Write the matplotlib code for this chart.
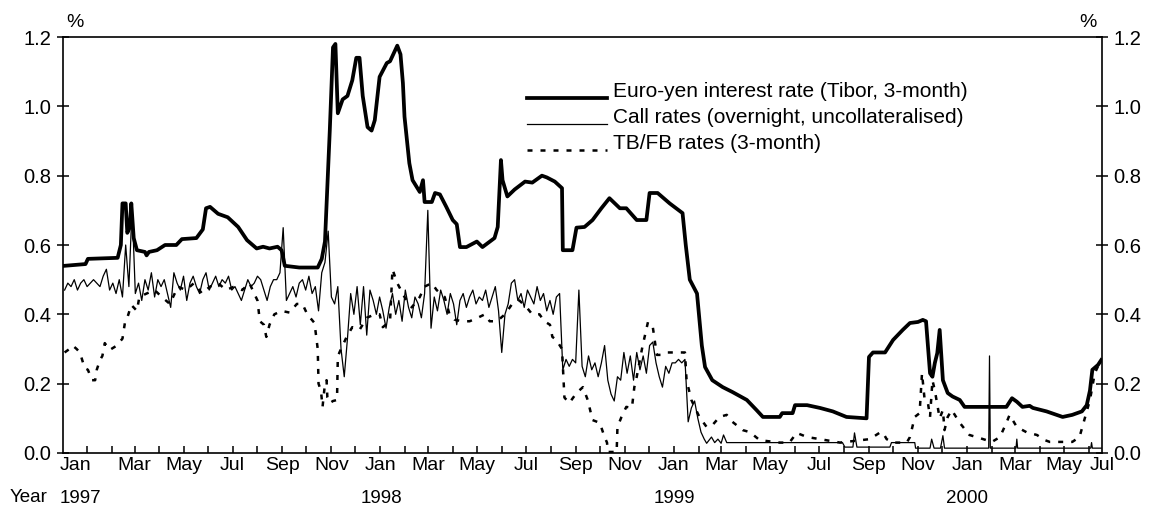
import matplotlib
matplotlib.use("Agg")
import matplotlib.pyplot as plt
import matplotlib.dates as mdates
from matplotlib.ticker import FuncFormatter, FormatStrFormatter
from matplotlib.legend_handler import HandlerLine2D
import numpy as np
import pandas as pd

plt.rcParams['font.family'] = ['Liberation Sans', 'DejaVu Sans']

# Euro-yen 3-month Tibor
tibor_dates = [
    "1996-12-18", "1997-01-13", "1997-01-16", "1997-02-22", "1997-02-26", "1997-02-28", "1997-03-04", "1997-03-06", "1997-03-09", "1997-03-11",
    "1997-03-14", "1997-03-18", "1997-03-28", "1997-03-30", "1997-04-02", "1997-04-12", "1997-04-22", "1997-05-06", "1997-05-13", "1997-05-31",
    "1997-06-08", "1997-06-12", "1997-06-17", "1997-06-27", "1997-07-09", "1997-07-22", "1997-08-02", "1997-08-14", "1997-08-22", "1997-08-30",
    "1997-09-09", "1997-09-14", "1997-09-18", "1997-10-06", "1997-10-29", "1997-11-03", "1997-11-07", "1997-11-10", "1997-11-13", "1997-11-17",
    "1997-11-20", "1997-11-23", "1997-11-29", "1997-12-05", "1997-12-11", "1997-12-16", "1997-12-20", "1997-12-24", "1997-12-30", "1998-01-04",
    "1998-01-08", "1998-01-14", "1998-01-23", "1998-01-27", "1998-02-02", "1998-02-05", "1998-02-09", "1998-02-12", "1998-02-14", "1998-02-20",
    "1998-02-24", "1998-03-05", "1998-03-09", "1998-03-11", "1998-03-20", "1998-03-24", "1998-03-30", "1998-04-07", "1998-04-15", "1998-04-20",
    "1998-04-24", "1998-05-02", "1998-05-15", "1998-05-22", "1998-06-06", "1998-06-10", "1998-06-14", "1998-06-16", "1998-06-22", "1998-07-01",
    "1998-07-14", "1998-07-23", "1998-08-04", "1998-08-10", "1998-08-20", "1998-08-29", "1998-08-30", "1998-09-11", "1998-09-16", "1998-09-26",
    "1998-10-06", "1998-10-17", "1998-10-27", "1998-11-09", "1998-11-17", "1998-11-30", "1998-12-12", "1998-12-16", "1998-12-26", "1999-01-10",
    "1999-01-26", "1999-01-30", "1999-02-04", "1999-02-13", "1999-02-19", "1999-02-23", "1999-03-04", "1999-03-17", "1999-03-29", "1999-04-16",
    "1999-04-28", "1999-05-06", "1999-05-27", "1999-05-30", "1999-06-12", "1999-06-15", "1999-06-30", "1999-07-16", "1999-08-01", "1999-08-18",
    "1999-09-12", "1999-09-15", "1999-09-20", "1999-10-05", "1999-10-15", "1999-10-27", "1999-11-05", "1999-11-15", "1999-11-21", "1999-11-25",
    "1999-11-30", "1999-12-03", "1999-12-06", "1999-12-09", "1999-12-12", "1999-12-16", "1999-12-22", "1999-12-28", "2000-01-06", "2000-01-12",
    "2000-03-04", "2000-03-11", "2000-03-17", "2000-03-24", "2000-04-02", "2000-04-06", "2000-04-23", "2000-05-13", "2000-05-25", "2000-06-06",
    "2000-06-12", "2000-06-16", "2000-06-19", "2000-06-26", "2000-06-30",
]
tibor_vals = [
    0.54, 0.545, 0.56, 0.563, 0.60, 0.72, 0.72, 0.635, 0.65, 0.72,
    0.62, 0.585, 0.58, 0.57, 0.58, 0.585, 0.60, 0.60, 0.617, 0.62,
    0.645, 0.706, 0.71, 0.69, 0.68, 0.652, 0.614, 0.59, 0.595, 0.59,
    0.595, 0.585, 0.54, 0.535, 0.535, 0.56, 0.61, 0.77, 0.93, 1.17,
    1.18, 0.98, 1.02, 1.03, 1.075, 1.14, 1.14, 1.03, 0.94, 0.93,
    0.96, 1.085, 1.125, 1.13, 1.16, 1.175, 1.15, 1.067, 0.97, 0.836,
    0.787, 0.753, 0.787, 0.724, 0.724, 0.75, 0.746, 0.71, 0.672, 0.66,
    0.594, 0.594, 0.61, 0.594, 0.62, 0.652, 0.845, 0.787, 0.74, 0.76,
    0.783, 0.78, 0.80, 0.795, 0.783, 0.764, 0.585, 0.585, 0.65, 0.652,
    0.672, 0.706, 0.735, 0.706, 0.706, 0.672, 0.672, 0.75, 0.75, 0.72,
    0.692, 0.60, 0.50, 0.46, 0.31, 0.248, 0.21, 0.19, 0.176, 0.153,
    0.124, 0.104, 0.104, 0.115, 0.115, 0.138, 0.138, 0.13, 0.12, 0.104,
    0.10, 0.277, 0.29, 0.29, 0.326, 0.355, 0.375, 0.378, 0.384, 0.38,
    0.23, 0.22, 0.26, 0.288, 0.355, 0.21, 0.173, 0.163, 0.153, 0.133,
    0.133, 0.158, 0.148, 0.133, 0.136, 0.13, 0.12, 0.104, 0.11, 0.12,
    0.138, 0.18, 0.24, 0.254, 0.268,
]

# Call rates: 4-day readings up to Feb 1999, then single readings
call_start = "1996-12-18"
call_grid_vals = [
    0.47, 0.49, 0.48, 0.50, 0.47, 0.49, 0.50, 0.48, 0.49, 0.50,
    0.49, 0.48, 0.51, 0.53, 0.47, 0.49, 0.46, 0.50, 0.45, 0.60,
    0.48, 0.71, 0.46, 0.49, 0.44, 0.50, 0.47, 0.52, 0.45, 0.50,
    0.48, 0.50, 0.46, 0.42, 0.52, 0.49, 0.47, 0.51, 0.44, 0.49,
    0.51, 0.48, 0.46, 0.50, 0.52, 0.47, 0.49, 0.51, 0.48, 0.50,
    0.49, 0.51, 0.47, 0.48, 0.46, 0.44, 0.47, 0.50, 0.48, 0.49,
    0.51, 0.50, 0.47, 0.44, 0.48, 0.50, 0.50, 0.52, 0.65, 0.44,
    0.46, 0.48, 0.45, 0.49, 0.50, 0.47, 0.51, 0.46, 0.48, 0.41,
    0.52, 0.55, 0.64, 0.45, 0.43, 0.48, 0.30, 0.22, 0.33, 0.46,
    0.40, 0.48, 0.37, 0.48, 0.34, 0.47, 0.44, 0.40, 0.45, 0.41,
    0.36, 0.42, 0.46, 0.40, 0.44, 0.38, 0.47, 0.42, 0.39, 0.45,
    0.43, 0.39, 0.46, 0.70, 0.36, 0.45, 0.41, 0.47, 0.44, 0.40,
    0.46, 0.43, 0.37, 0.44, 0.46, 0.42, 0.45, 0.47, 0.43, 0.45,
    0.44, 0.47, 0.42, 0.45, 0.48, 0.41, 0.29, 0.40, 0.43, 0.49,
    0.50, 0.44, 0.46, 0.42, 0.47, 0.45, 0.43, 0.48, 0.44, 0.46,
    0.41, 0.44, 0.40, 0.45, 0.46, 0.24, 0.27, 0.25, 0.27, 0.26,
    0.47, 0.25, 0.22, 0.28, 0.24, 0.26, 0.22, 0.26, 0.31, 0.21,
    0.17, 0.15, 0.22, 0.21, 0.29, 0.23, 0.28, 0.21, 0.29, 0.24,
    0.28, 0.23, 0.31, 0.32, 0.26, 0.22, 0.19, 0.25, 0.23, 0.26,
    0.26, 0.27, 0.26, 0.27, 0.09, 0.13, 0.15, 0.10, 0.06, 0.04,
]
call_tail_dates = [
    "1999-02-25", "1999-03-03", "1999-03-07", "1999-03-11", "1999-03-15", "1999-03-18", "1999-03-22", "1999-08-13", "1999-08-16", "1999-08-26",
    "1999-08-28", "1999-08-31", "1999-10-11", "1999-10-13", "1999-11-11", "1999-11-12", "1999-11-30", "1999-12-02", "1999-12-05", "1999-12-13",
    "1999-12-16", "1999-12-18", "2000-02-11", "2000-02-12", "2000-02-13", "2000-03-16", "2000-03-17", "2000-03-18", "2000-06-17", "2000-06-18",
    "2000-06-19", "2000-06-30",
]
call_tail_vals = [
    0.028, 0.046, 0.03, 0.04, 0.028, 0.052, 0.03, 0.03, 0.017, 0.017,
    0.058, 0.017, 0.017, 0.03, 0.03, 0.014, 0.014, 0.04, 0.014, 0.014,
    0.05, 0.014, 0.014, 0.28, 0.014, 0.014, 0.04, 0.014, 0.014, 0.03,
    0.014, 0.014,
]

# TB/FB 3-month rates
tb_dates = [
    "1996-12-18", "1996-12-24", "1996-12-28", "1997-01-02", "1997-01-06", "1997-01-12", "1997-01-16", "1997-01-21", "1997-01-25", "1997-01-27",
    "1997-01-31", "1997-02-03", "1997-02-06", "1997-02-12", "1997-02-21", "1997-02-28", "1997-03-03", "1997-03-06", "1997-03-11", "1997-03-18",
    "1997-03-21", "1997-03-30", "1997-04-09", "1997-04-18", "1997-04-28", "1997-05-08", "1997-05-18", "1997-05-28", "1997-06-07", "1997-06-17",
    "1997-06-27", "1997-07-07", "1997-07-17", "1997-07-27", "1997-08-05", "1997-08-11", "1997-08-15", "1997-08-18", "1997-08-23", "1997-08-26",
    "1997-08-30", "1997-09-05", "1997-09-14", "1997-09-24", "1997-10-03", "1997-10-10", "1997-10-16", "1997-10-25", "1997-10-29", "1997-10-30",
    "1997-11-02", "1997-11-04", "1997-11-07", "1997-11-09", "1997-11-10", "1997-11-13", "1997-11-17", "1997-11-22", "1997-11-23", "1997-11-25",
    "1997-12-04", "1997-12-11", "1997-12-20", "1997-12-29", "1998-01-08", "1998-01-14", "1998-01-18", "1998-01-27", "1998-01-30", "1998-02-05",
    "1998-02-14", "1998-02-23", "1998-03-05", "1998-03-11", "1998-03-20", "1998-03-26", "1998-04-05", "1998-04-11", "1998-04-17", "1998-04-26",
    "1998-05-06", "1998-05-16", "1998-05-25", "1998-05-31", "1998-06-09", "1998-06-19", "1998-06-28", "1998-07-07", "1998-07-16", "1998-07-23",
    "1998-08-01", "1998-08-07", "1998-08-14", "1998-08-17", "1998-08-22", "1998-08-29", "1998-09-01", "1998-09-07", "1998-09-16", "1998-09-24",
    "1998-09-30", "1998-10-06", "1998-10-15", "1998-10-21", "1998-10-24", "1998-10-25", "1998-11-05", "1998-11-06", "1998-11-11", "1998-11-17",
    "1998-11-24", "1998-11-27", "1998-11-30", "1998-12-07", "1998-12-14", "1998-12-20", "1998-12-25", "1999-01-01", "1999-01-06", "1999-01-14",
    "1999-01-22", "1999-01-29", "1999-01-31", "1999-02-06", "1999-02-10", "1999-02-16", "1999-02-25", "1999-03-04", "1999-03-13", "1999-03-22",
    "1999-03-29", "1999-04-11", "1999-04-20", "1999-05-02", "1999-05-27", "1999-06-08", "1999-06-17", "1999-06-30", "1999-07-16", "1999-08-10",
    "1999-08-28", "1999-09-16", "1999-09-28", "1999-10-02", "1999-10-07", "1999-10-15", "1999-11-01", "1999-11-05", "1999-11-11", "1999-11-17",
    "1999-11-20", "1999-11-23", "1999-11-27", "1999-11-30", "1999-12-03", "1999-12-06", "1999-12-12", "1999-12-16", "1999-12-18", "1999-12-22",
    "1999-12-27", "2000-01-06", "2000-01-18", "2000-01-31", "2000-02-15", "2000-02-25", "2000-03-04", "2000-03-08", "2000-03-17", "2000-03-29",
    "2000-04-11", "2000-04-21", "2000-04-27", "2000-05-25", "2000-06-03", "2000-06-09", "2000-06-16", "2000-06-22", "2000-06-28", "2000-06-30",
]
tb_vals = [
    0.29, 0.30, 0.31, 0.30, 0.29, 0.245, 0.24, 0.21, 0.21, 0.24,
    0.268, 0.28, 0.317, 0.297, 0.31, 0.33, 0.375, 0.39, 0.427, 0.41,
    0.45, 0.46, 0.47, 0.45, 0.43, 0.48, 0.47, 0.49, 0.46, 0.48,
    0.49, 0.47, 0.48, 0.47, 0.49, 0.46, 0.44, 0.38, 0.37, 0.335,
    0.37, 0.40, 0.41, 0.405, 0.43, 0.43, 0.40, 0.375, 0.30, 0.20,
    0.18, 0.133, 0.20, 0.21, 0.16, 0.144, 0.15, 0.153, 0.277, 0.29,
    0.335, 0.363, 0.355, 0.39, 0.40, 0.40, 0.363, 0.38, 0.53, 0.49,
    0.45, 0.42, 0.45, 0.48, 0.49, 0.47, 0.45, 0.40, 0.385, 0.38,
    0.38, 0.39, 0.40, 0.38, 0.38, 0.40, 0.43, 0.44, 0.42, 0.40,
    0.40, 0.38, 0.37, 0.335, 0.326, 0.30, 0.16, 0.144, 0.173, 0.19,
    0.153, 0.095, 0.087, 0.046, 0.03, 0.003, 0.003, 0.075, 0.104, 0.133,
    0.13, 0.19, 0.22, 0.306, 0.378, 0.363, 0.283, 0.283, 0.29, 0.29,
    0.29, 0.29, 0.21, 0.153, 0.133, 0.104, 0.075, 0.08, 0.104, 0.11,
    0.09, 0.066, 0.06, 0.037, 0.03, 0.03, 0.058, 0.046, 0.04, 0.03,
    0.035, 0.04, 0.058, 0.06, 0.04, 0.03, 0.03, 0.046, 0.104, 0.115,
    0.23, 0.16, 0.15, 0.104, 0.21, 0.18, 0.10, 0.124, 0.066, 0.104,
    0.124, 0.087, 0.052, 0.043, 0.032, 0.046, 0.087, 0.11, 0.075, 0.06,
    0.052, 0.037, 0.032, 0.032, 0.046, 0.095, 0.153, 0.23, 0.26, 0.26,
]

labels = ["Euro-yen interest rate (Tibor, 3-month)",
          "Call rates (overnight, uncollateralised)",
          "TB/FB rates (3-month)"]
years = ["1997", "1998", "1999", "2000"]
year_pos = ["1997-01-07", "1998-01-16", "1999-01-16", "2000-01-15"]


class LowLine(HandlerLine2D):
    # legend sample sits near the text baseline, as in the original
    def create_artists(self, legend, orig_handle, xdescent, ydescent, width, height, fontsize, trans):
        arts = super().create_artists(legend, orig_handle, xdescent, ydescent, width, height, fontsize, trans)
        for a in arts:
            a.set_ydata(np.asarray(a.get_ydata()) - 0.4 * fontsize)
        return arts


call_dates = pd.date_range(call_start, periods=len(call_grid_vals), freq="4D").append(pd.to_datetime(call_tail_dates))
call_vals = call_grid_vals + call_tail_vals

fig = plt.figure(figsize=(11.56, 5.05), dpi=100)
ax = fig.add_axes([63 / 1156, 1 - 453 / 505, (1102 - 63) / 1156, (453 - 37) / 505])

l3, = ax.plot(pd.to_datetime(tb_dates), tb_vals, color="black", lw=1.8, ls=(0, (2, 3.2)), zorder=2)
l2, = ax.plot(call_dates, call_vals, color="black", lw=0.9, zorder=3)
l1, = ax.plot(pd.to_datetime(tibor_dates), tibor_vals, color="black", lw=2.7, zorder=4)

ax.set_xlim(pd.Timestamp("1996-12-16"), pd.Timestamp("2000-07-01"))
ax.set_ylim(0, 1.2)

for s in ax.spines.values():
    s.set_linewidth(1.2)

ax.set_yticks([0, 0.2, 0.4, 0.6, 0.8, 1.0, 1.2])
ax.yaxis.set_major_formatter(FormatStrFormatter("%.1f"))
ax.tick_params(axis="y", direction="inout", length=8.6, width=1.1, left=True, right=True,
               labelleft=True, labelright=True, labelsize=14.5, pad=4)

first_label = pd.Timestamp("1997-02-01")
ax.xaxis.set_major_locator(mdates.MonthLocator(bymonth=(1, 3, 5, 7, 9, 11), bymonthday=15))
ax.xaxis.set_minor_locator(mdates.MonthLocator(bymonthday=15))
ax.xaxis.set_major_formatter(FuncFormatter(
    lambda v, p: "" if mdates.num2date(v).replace(tzinfo=None) < first_label else mdates.num2date(v).strftime("%b")))
ax.tick_params(axis="x", which="both", direction="in", length=5, width=1.1, labelsize=14, pad=3)

# edge month labels, pulled inside like the original
ax.annotate("Jan", xy=(pd.Timestamp("1997-01-01"), 0), xycoords=("data", "axes fraction"),
            xytext=(0, -3), textcoords="offset points", ha="center", va="top", fontsize=14)
ax.annotate("Jul", xy=(pd.Timestamp("2000-07-01"), 0), xycoords=("data", "axes fraction"),
            xytext=(0, -3), textcoords="offset points", ha="center", va="top", fontsize=14)

for y, d in zip(years, year_pos):
    ax.annotate(y, xy=(pd.Timestamp(d), 0), xycoords=("data", "axes fraction"),
                xytext=(0, -32.5), textcoords="offset points", ha="center", va="center", fontsize=13.5)
fig.text(29 / 1156, 1 - 498 / 505, "Year", ha="center", va="center", fontsize=13.5)

ax.text(0.0115, 1.034, "%", transform=ax.transAxes, ha="center", va="center", fontsize=14)
ax.text(0.9865, 1.034, "%", transform=ax.transAxes, ha="center", va="center", fontsize=14)

ax.legend([l1, l2, l3], labels, loc="upper left", bbox_to_anchor=(0.4466, 0.893),
          frameon=False, fontsize=15, handlelength=3.85, handletextpad=0.3,
          labelspacing=0.35, borderpad=0, borderaxespad=0,
          handler_map={l1: LowLine(), l2: LowLine(), l3: LowLine()})

fig.savefig("out.png", dpi=100)
